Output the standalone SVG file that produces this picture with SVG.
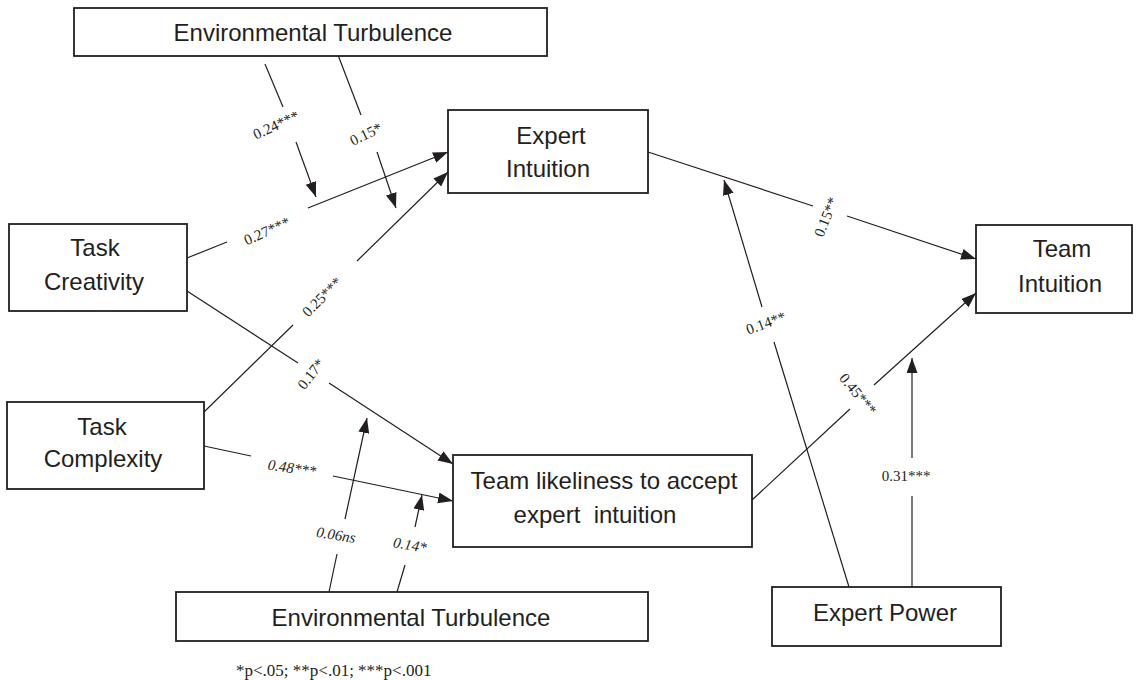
<svg xmlns="http://www.w3.org/2000/svg" width="1139" height="680" viewBox="0 0 1139 680">
<style>
.box{fill:#fff;stroke:#231f20;stroke-width:1.8}
.nt{font-family:"Liberation Sans",Arial,sans-serif;font-size:24px;fill:#231f20;text-anchor:middle}
.ln{stroke:#231f20;stroke-width:1.2;fill:none}
.lb{font-family:"Liberation Serif","Times New Roman",serif;font-size:15px;fill:#231f20;text-anchor:middle;dominant-baseline:central}
.it{font-style:italic}
.fn{font-family:"Liberation Serif","Times New Roman",serif;font-size:17px;fill:#231f20}
</style>
<defs>
<marker id="ah" markerUnits="userSpaceOnUse" markerWidth="16" markerHeight="12" refX="15" refY="5.5" orient="auto">
<path d="M0,0 L15,5.5 L0,11 z" fill="#231f20"/>
</marker>
</defs>
<rect width="1139" height="680" fill="#fff"/>
<g id="connectors">
<line class="ln" x1="187" y1="258" x2="227" y2="242"/>
<line class="ln" x1="308" y1="208" x2="448" y2="152" marker-end="url(#ah)"/>
<line class="ln" x1="204" y1="412" x2="293" y2="325"/>
<line class="ln" x1="357" y1="261" x2="448" y2="172" marker-end="url(#ah)"/>
<line class="ln" x1="187" y1="291" x2="298" y2="363"/>
<line class="ln" x1="329" y1="383" x2="453" y2="464" marker-end="url(#ah)"/>
<line class="ln" x1="204" y1="446" x2="251" y2="456"/>
<line class="ln" x1="333" y1="476" x2="453" y2="501" marker-end="url(#ah)"/>
<line class="ln" x1="752" y1="500" x2="850" y2="409"/>
<line class="ln" x1="874" y1="385" x2="976" y2="293" marker-end="url(#ah)"/>
<line class="ln" x1="648" y1="152" x2="813" y2="206"/>
<line class="ln" x1="847" y1="216" x2="976" y2="259" marker-end="url(#ah)"/>
<line class="ln" x1="849" y1="587" x2="774" y2="342"/>
<line class="ln" x1="762" y1="307" x2="724" y2="180" marker-end="url(#ah)"/>
<line class="ln" x1="912" y1="587" x2="912" y2="496"/>
<line class="ln" x1="912" y1="458" x2="912" y2="358" marker-end="url(#ah)"/>
<line class="ln" x1="265" y1="64" x2="283" y2="107"/>
<line class="ln" x1="296" y1="142" x2="316" y2="197" marker-end="url(#ah)"/>
<line class="ln" x1="338" y1="55" x2="361" y2="115"/>
<line class="ln" x1="377" y1="152" x2="396" y2="208" marker-end="url(#ah)"/>
<line class="ln" x1="329" y1="592" x2="337" y2="554"/>
<line class="ln" x1="345" y1="519" x2="367" y2="418" marker-end="url(#ah)"/>
<line class="ln" x1="397" y1="592" x2="405" y2="565"/>
<line class="ln" x1="415" y1="527" x2="422" y2="495" marker-end="url(#ah)"/>
<text class="lb" x="267" y="231" transform="rotate(-24 267 231)">0.27***</text>
<text class="lb" x="322" y="297" transform="rotate(-45 322 297)">0.25***</text>
<text class="lb" x="311" y="374" transform="rotate(-52 311 374)">0.17*</text>
<text class="lb it" x="292" y="468" transform="rotate(8 292 468)">0.48***</text>
<text class="lb" x="858" y="394" transform="rotate(50 858 394)">0.45***</text>
<text class="lb" x="826" y="217" transform="rotate(-68 826 217)">0.15**</text>
<text class="lb" x="766" y="323" transform="rotate(-20 766 323)">0.14**</text>
<text class="lb" x="906" y="476">0.31***</text>
<text class="lb" x="276" y="125" transform="rotate(-25 276 125)">0.24***</text>
<text class="lb" x="366" y="134" transform="rotate(-26 366 134)">0.15*</text>
<text class="lb it" x="336" y="535" transform="rotate(9 336 535)">0.06ns</text>
<text class="lb it" x="410" y="545" transform="rotate(10 410 545)">0.14*</text>
</g>
<g id="env-top">
<rect class="box" x="74" y="8" width="473" height="48"/>
<text class="nt" x="313" y="41">Environmental Turbulence</text>
</g>
<g id="expert-intuition">
<rect class="box" x="448" y="110" width="200" height="83"/>
<text class="nt" x="551" y="144">Expert</text>
<text class="nt" x="548" y="177">Intuition</text>
</g>
<g id="task-creativity">
<rect class="box" x="9" y="224" width="178" height="87"/>
<text class="nt" x="95" y="256">Task</text>
<text class="nt" x="94" y="290">Creativity</text>
</g>
<g id="task-complexity">
<rect class="box" x="7" y="402" width="197" height="87"/>
<text class="nt" x="102" y="435">Task</text>
<text class="nt" x="103" y="467">Complexity</text>
</g>
<g id="team-likeliness">
<rect class="box" x="453" y="455" width="299" height="92"/>
<text class="nt" x="604" y="489">Team likeliness to accept</text>
<text class="nt" x="595" y="523" xml:space="preserve">expert  intuition</text>
</g>
<g id="env-bottom">
<rect class="box" x="176" y="592" width="472" height="49"/>
<text class="nt" x="411" y="626">Environmental Turbulence</text>
</g>
<g id="team-intuition">
<rect class="box" x="976" y="225" width="156" height="88"/>
<text class="nt" x="1062" y="257">Team</text>
<text class="nt" x="1060" y="292">Intuition</text>
</g>
<g id="expert-power">
<rect class="box" x="772" y="587" width="229" height="59"/>
<text class="nt" x="885" y="621">Expert Power</text>
</g>
<text class="fn" x="236" y="676">*p&lt;.05; **p&lt;.01; ***p&lt;.001</text>
</svg>
